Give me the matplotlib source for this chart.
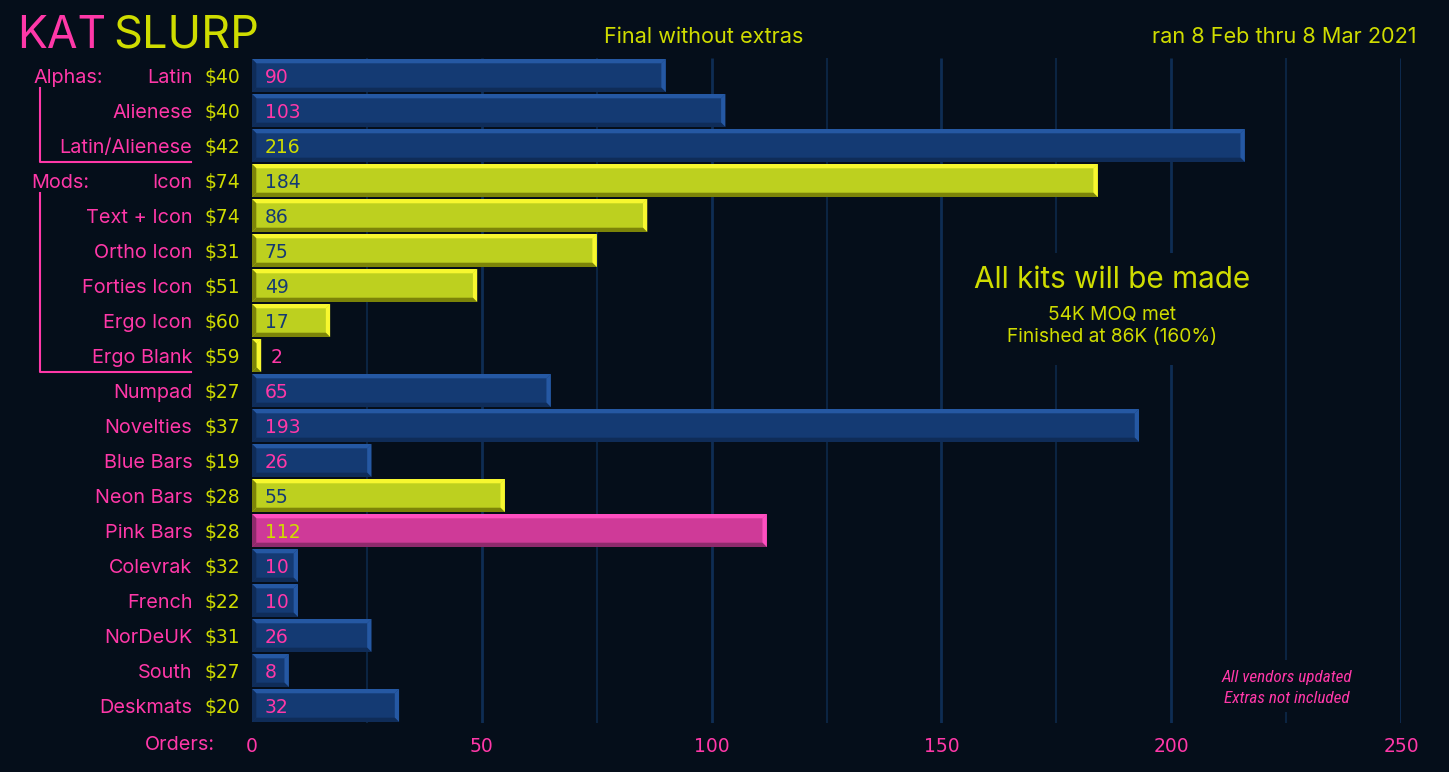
import matplotlib
matplotlib.use('Agg')
import matplotlib.pyplot as plt
from matplotlib.patches import Polygon

names = ['Latin', 'Alienese', 'Latin/Alienese', 'Icon', 'Text + Icon', 'Ortho Icon', 'Forties Icon',
         'Ergo Icon', 'Ergo Blank', 'Numpad', 'Novelties', 'Blue Bars', 'Neon Bars', 'Pink Bars',
         'Colevrak', 'French', 'NorDeUK', 'South', 'Deskmats']
prices = [40, 40, 42, 74, 74, 31, 51, 60, 59, 27, 37, 19, 28, 28, 32, 22, 31, 27, 20]
orders = [90, 103, 216, 184, 86, 75, 49, 17, 2, 65, 193, 26, 55, 112, 10, 10, 26, 8, 32]
kinds = ['b', 'b', 'b', 'y', 'y', 'y', 'y', 'y', 'y', 'b', 'b', 'b', 'y', 'p', 'b', 'b', 'b', 'b', 'b']
ticks = [0, 50, 100, 150, 200, 250]
minor_ticks = [25, 75, 125, 175, 225]

BG = '#050e1a'
PINK = '#ff38a8'
YEL = '#cfdc00'
NAVY = '#143a73'
# face, light edge, dark edge
cols = {'b': ('#143a73', '#2558a3', '#0f2c58'),
        'y': ('#bdd01f', '#f7f72f', '#7c8408'),
        'p': ('#cf3a98', '#ff4fc0', '#8e2a6c')}
lbl_cols = {'b': PINK, 'y': NAVY, 'p': YEL}
# digits read wider than Inter in the reference
NUM_FONT = ['DejaVu Sans']

plt.rcParams['font.family'] = ['Inter', 'DejaVu Sans']

W, H = 1449, 772
fig = plt.figure(figsize=(W / 100, H / 100), dpi=100, facecolor=BG)
ax = fig.add_axes([252 / W, 1 - 723 / H, (1401 - 252) / W, 665 / H], facecolor=BG)
ax.set_xlim(0, 250)
ax.set_ylim(18.5, -0.5)
for s in ax.spines.values():
    s.set_visible(False)
ax.set_yticks([])
ax.set_xticks(ticks)
ax.set_xticklabels(ticks, color=PINK, fontsize=13.5, family=NUM_FONT)
ax.tick_params(axis='x', length=0, pad=10)
ax.vlines(ticks[1:], -0.5, 18.55, color='#0e2d54', lw=2, zorder=1)
ax.vlines(minor_ticks, -0.5, 18.55, color='#0b2442', lw=1.5, zorder=1)

# bevel depth
dx = 4.3 / 4.596
dy = 4.3 / 35.0
hh = 33 / 35.0 / 2

bars = ax.barh(range(len(orders)), orders, height=2 * hh, color=[cols[k][0] for k in kinds], zorder=2)
for i, (v, k) in enumerate(zip(orders, kinds)):
    face, light, dark = cols[k]
    t, b = i - hh, i + hh
    d = min(dx, v / 2)
    ax.add_patch(Polygon([(0, t), (v, t), (v - d, t + dy), (d, t + dy)], fc=light, ec='none', zorder=3))
    ax.add_patch(Polygon([(v, t), (v, b), (v - d, b - dy), (v - d, t + dy)], fc=light, ec='none', zorder=3))
    ax.add_patch(Polygon([(0, b), (v, b), (v - d, b - dy), (d, b - dy)], fc=dark, ec='none', zorder=3))
    ax.add_patch(Polygon([(0, t), (0, b), (d, b - dy), (d, t + dy)], fc=dark, ec='none', zorder=3))

    # value labels
    c = lbl_cols[k]
    if v == 216:
        c = YEL
    xpos = 2.8 if v > 5 else v + 2
    if v <= 5:
        c = PINK
    ax.text(xpos, i + 0.05, str(v), color=c, fontsize=13.5, family=NUM_FONT, va='center', ha='left', zorder=5)

    ax.text(-2.5, i + 0.05, '$%d' % prices[i], color=YEL, fontsize=13.5, family=NUM_FONT, va='center', ha='right',
            clip_on=False)
    ax.text(-13, i + 0.06, names[i], color=PINK, fontsize=14.3, va='center', ha='right', clip_on=False)

# group labels and brackets
ax.text(-47.5, 0.06, 'Alphas:', color=PINK, fontsize=14.3, va='center', ha='left')
ax.text(-48, 3.06, 'Mods:', color=PINK, fontsize=14.3, va='center', ha='left')
ax.plot([-46.2, -46.2, -13.3], [0.35, 2.47, 2.47], color=PINK, lw=1.5, clip_on=False, zorder=5)
ax.plot([-46.2, -46.2, -13.3], [3.35, 8.47, 8.47], color=PINK, lw=1.5, clip_on=False, zorder=5)

ax.text(-8, 19.12, 'Orders:', color=PINK, fontsize=14.3, va='center', ha='right', clip_on=False)

# title row
fig.text(17 / W, 1 - 36 / H, 'KAT', color=PINK, fontsize=32, va='center', ha='left')
fig.text(113 / W, 1 - 36 / H, 'SLURP', color=YEL, fontsize=32.5, va='center', ha='left')
fig.text(704 / W, 1 - 37 / H, 'Final without extras', color=YEL, fontsize=15.6, va='center', ha='center')
fig.text(1417 / W, 1 - 37 / H, 'ran 8 Feb thru 8 Mar 2021', color=YEL, fontsize=15.6, va='center', ha='right')

# notes, with a box hiding the grid behind
fig.patches.append(plt.Rectangle((965 / W, 1 - 365 / H), 300 / W, 112 / H, transform=fig.transFigure,
                                 fc=BG, ec='none', zorder=4, figure=fig))
fig.patches.append(plt.Rectangle((1215 / W, 1 - 712 / H), 145 / W, 52 / H, transform=fig.transFigure,
                                 fc=BG, ec='none', zorder=4, figure=fig))
fig.text(1112 / W, 1 - 280 / H, 'All kits will be made', color=YEL, fontsize=21.4, va='center', ha='center', zorder=6)
fig.text(1112 / W, 1 - 326 / H, '54K MOQ met\nFinished at 86K (160%)', color=YEL, fontsize=13.8, va='center',
         ha='center', linespacing=1.35, zorder=6)
fig.text(1287 / W, 1 - 688 / H, 'All vendors updated\nExtras not included', color=PINK, fontsize=12.3,
         family=['Roboto Condensed', 'Noto Sans Condensed', 'Roboto'], stretch='condensed', style='italic',
         va='center', ha='center', linespacing=1.55, zorder=6)

fig.savefig('out.png', dpi=100, facecolor=BG)
